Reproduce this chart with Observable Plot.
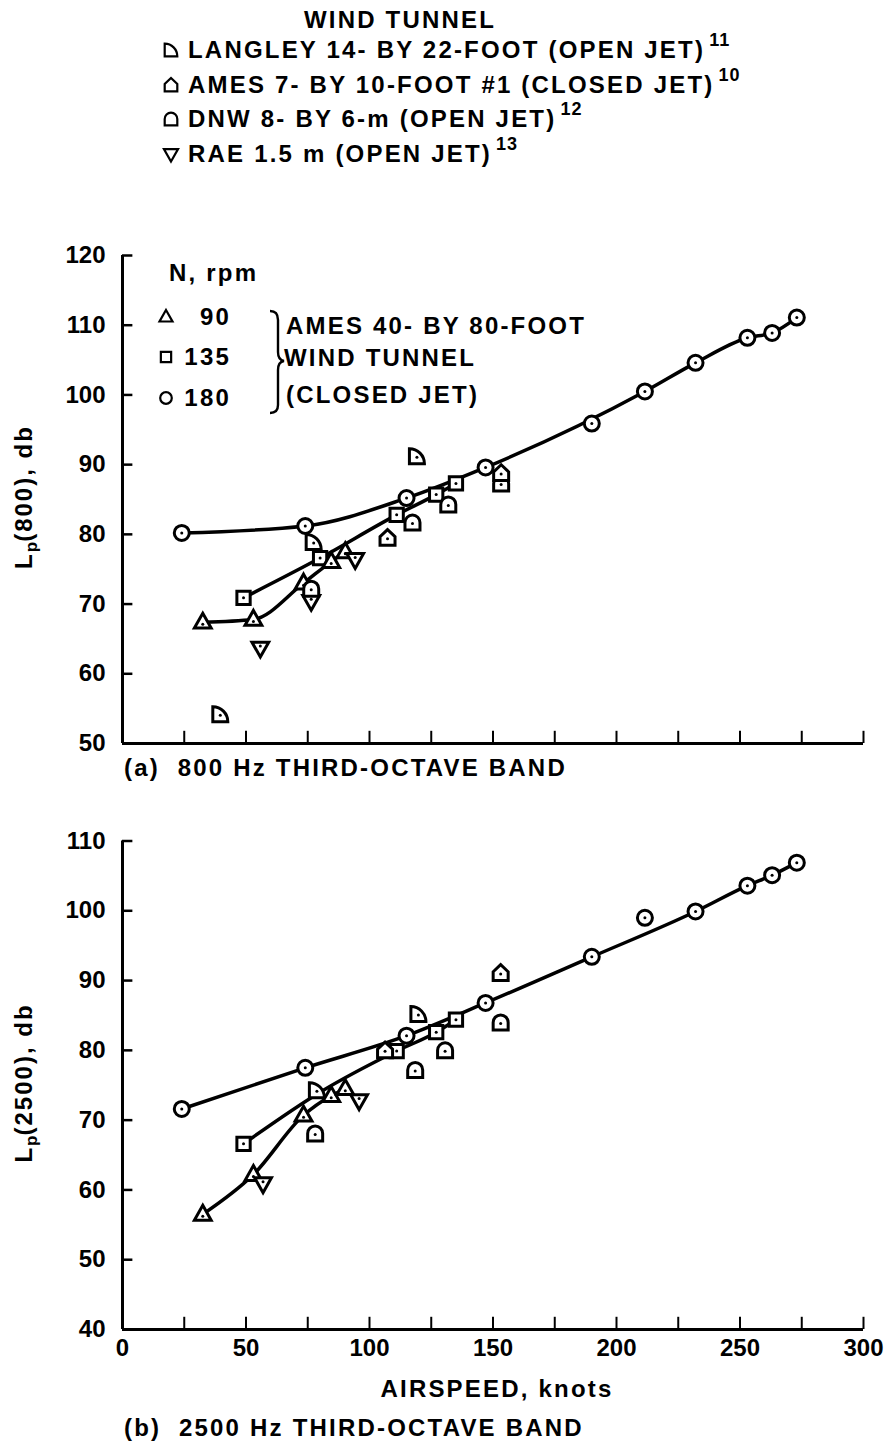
<!DOCTYPE html>
<html><head><meta charset="utf-8">
<script src="https://cdn.jsdelivr.net/npm/d3@7"></script>
<script src="https://cdn.jsdelivr.net/npm/@observablehq/plot@0.6"></script>
<style>
html,body{margin:0;padding:0;background:#fff;}
#fig{position:relative;width:891px;height:1445px;overflow:hidden;font-family:"Liberation Sans",Arial,sans-serif;color:#000;}
.t{position:absolute;white-space:nowrap;font-size:24px;font-weight:bold;letter-spacing:2.2px;line-height:1;transform:translateY(-50%);}
.sup{font-size:18px;position:relative;top:-12px;letter-spacing:1px;margin-left:4px;}
.abs{position:absolute;}
.sym{position:absolute;transform:translate(-50%,-50%);line-height:0;}
.ylab{position:absolute;white-space:nowrap;font-size:24px;font-weight:bold;letter-spacing:2px;line-height:1;transform:translate(-50%,-50%) rotate(-90deg);}
.ylab sub{font-size:17px;vertical-align:-5px;letter-spacing:0;}
</style></head><body><div id="fig"></div>
<script>
// ---------------- data ----------------
// Ames 40- by 80-foot, 180 rpm (circles)
const airspeed180 = [24, 74, 115, 147, 190, 211.5, 232, 253, 263, 273];
const lp800_180  = [80.2, 81.2, 85.2, 89.6, 95.9, 100.5, 104.6, 108.2, 108.9, 111.1];
const lp2500_180 = [71.6, 77.5, 82.1, 86.8, 93.4, 99.0, 99.9, 103.6, 105.1, 106.9];
const onCurve800_180  = [1, 1, 1, 1, 0, 1, 1, 1, 1, 1];
const onCurve2500_180 = [1, 1, 1, 1, 1, 0, 1, 1, 1, 1];
// 135 rpm (squares)
const airspeed135 = [49, 80, 111, 127, 135];
const lp800_135  = [70.9, 76.6, 82.8, 85.7, 87.3];
const lp2500_135 = [66.6, 74.0, 79.9, 82.6, 84.4];
const visible2500_135 = [1, 0, 1, 1, 1];   // the 80-knot point is hidden behind a Langley symbol
// 90 rpm (triangles)
const airspeed90 = [32.5, 53, 73.3, 84.5, 90.2];
const lp800_90  = [67.4, 67.8, 73.0, 76.1, 77.5];
const lp2500_90 = [56.5, 62.2, 70.7, 73.5, 74.5];
// Langley 14- by 22-foot
const langleyAirspeed800 = [39.6, 77.4, 119.2];
const langley800 = [54.2, 78.9, 91.2];
const langleyAirspeed2500 = [78.7, 119.8];
const langley2500 = [74.3, 85.2];
// Ames 7- by 10-foot #1
const ames7Airspeed800 = [107.3, 153.3];
const ames7_800 = [79.5, 88.8];
const ames7Airspeed2500 = [106.3, 153.1];
const ames7_2500 = [80.0, 91.1];
// DNW 8- by 6-m
const dnwAirspeed800 = [76.4, 117.4, 131.9, 153.3];
const dnw800 = [72.2, 81.7, 84.3, 87.3];
const dnwAirspeed2500 = [78, 118.5, 130.6, 153.1];
const dnw2500 = [68.1, 77.2, 80.0, 84.0];
// RAE 1.5 m
const raeAirspeed800 = [55.8, 76.4, 94.2];
const rae800 = [63.7, 70.4, 76.4];
const raeAirspeed2500 = [56.9, 95.8];
const rae2500 = [60.9, 72.8];

const xTickValues = d3.range(25, 301, 25);
const xLabelValues = [0, 50, 100, 150, 200, 250, 300];
const yTicksA = [50, 60, 70, 80, 90, 100, 110, 120];
const yTicksB = [40, 50, 60, 70, 80, 90, 100, 110];

// ---------------- symbols ----------------
const K = s => Math.sqrt(s / Math.PI);
const symCircle = d3.symbolCircle;
const symSquare = d3.symbolSquare;
const symTriUp = {draw(c, s){const k=K(s); c.moveTo(0,-1.2*k); c.lineTo(1.12*k,0.78*k); c.lineTo(-1.12*k,0.78*k); c.closePath();}};
const symTriDown = {draw(c, s){const k=K(s); c.moveTo(0,1.2*k); c.lineTo(1.12*k,-0.78*k); c.lineTo(-1.12*k,-0.78*k); c.closePath();}};
const symLangley = {draw(c, s){const k=K(s); c.moveTo(-k,k); c.lineTo(-k,-k); c.arc(-k,k,2*k,-Math.PI/2,0); c.closePath();}};
const symDNW = {draw(c, s){const k=K(s); c.moveTo(-k,k); c.lineTo(-k,0); c.arc(0,0,k,Math.PI,0); c.lineTo(k,k); c.closePath();}};
const symAmes = {draw(c, s){const k=K(s); c.moveTo(-k,k); c.lineTo(-k,-0.15*k); c.lineTo(0,-1.1*k); c.lineTo(k,-0.15*k); c.lineTo(k,k); c.closePath();}};

const rowsOf = (xs, ys, extra = {}) => xs.map((x, i) => ({x, y: ys[i], ...Object.fromEntries(Object.entries(extra).map(([k, v]) => [k, v[i]]))})).filter(d => d.y != null);

function panel({ymin, ymax, yTicks, height, marginTop, marginBottom, xLabels, groups, lines}) {
  const marks = [];
  marks.push(Plot.ruleY(yTicks, {x1: () => 0, x2: () => 4.2, strokeWidth: 2.5}));
  marks.push(Plot.ruleX(xTickValues, {y1: () => ymin, y2: () => ymin + 1.75, strokeWidth: 2}));
  marks.push(Plot.ruleX([0], {y1: () => ymin, y2: () => ymax, strokeWidth: 3}));
  marks.push(Plot.ruleY([ymin], {x1: () => 0, x2: () => 300, strokeWidth: 3}));
  marks.push(Plot.axisY(yTicks, {tickSize: 0, tickPadding: 17, label: null, fontSize: 24, fontWeight: "bold"}));
  if (xLabels) marks.push(Plot.axisX(xLabelValues, {tickSize: 0, tickPadding: 9, label: null, fontSize: 24, fontWeight: "bold"}));
  marks.push(Plot.line(lines, {x: "x", y: "y", z: "s", curve: "monotone-x", strokeWidth: 3.5, stroke: "black"}));
  for (const g of groups) {
    marks.push(Plot.dot(g.rows, {x: "x", y: "y", symbol: g.symbol, r: g.r || 7.5, fill: "white", stroke: "black", strokeWidth: 3}));
    marks.push(Plot.dot(g.rows, {x: "x", y: "y", r: 1.5, fill: "black", dy: g.dy || 0}));
  }
  return Plot.plot({
    width: 891, height, marginLeft: 122, marginRight: 28, marginTop, marginBottom,
    x: {domain: [0, 300], axis: null},
    y: {domain: [ymin, ymax], axis: null},
    style: {fontFamily: '"Liberation Sans", Arial, sans-serif', fontSize: "24px", fontWeight: "bold", color: "black", background: "transparent", overflow: "visible"},
    marks
  });
}

// ---------- panel a -----------
const a180 = rowsOf(airspeed180, lp800_180, {c: onCurve800_180});
const a135 = rowsOf(airspeed135, lp800_135);
const a90 = rowsOf(airspeed90, lp800_90);
const linesA = [
  ...a180.filter(d => d.c).map(d => ({...d, s: "180"})),
  ...a135.map(d => ({...d, s: "135"})),
  ...a90.map(d => ({...d, s: "90"}))
];
const plotA = panel({
  ymin: 50, ymax: 120, yTicks: yTicksA, height: 528, marginTop: 25, marginBottom: 15, xLabels: false,
  lines: linesA,
  groups: [
    {rows: a180, symbol: symCircle},
    {rows: a135, symbol: symSquare},
    {rows: a90, symbol: symTriUp, dy: 2},
    {rows: rowsOf(raeAirspeed800, rae800), symbol: symTriDown, dy: -2},
    {rows: rowsOf(dnwAirspeed800, dnw800), symbol: symDNW, dy: 1},
    {rows: rowsOf(ames7Airspeed800, ames7_800), symbol: symAmes, dy: 1},
    {rows: rowsOf(langleyAirspeed800, langley800), symbol: symLangley, dy: 1}
  ]
});

// ---------- panel b -----------
const b180 = rowsOf(airspeed180, lp2500_180, {c: onCurve2500_180});
const b135 = rowsOf(airspeed135, lp2500_135, {v: visible2500_135});
const b90 = rowsOf(airspeed90, lp2500_90);
const linesB = [
  ...b180.filter(d => d.c).map(d => ({...d, s: "180"})),
  ...b135.map(d => ({...d, s: "135"})),
  ...b90.map(d => ({...d, s: "90"}))
];
const plotB = panel({
  ymin: 40, ymax: 110, yTicks: yTicksB, height: 564, marginTop: 25.5, marginBottom: 50, xLabels: true,
  lines: linesB,
  groups: [
    {rows: b180, symbol: symCircle},
    {rows: b135.filter(d => d.v), symbol: symSquare},
    {rows: b90, symbol: symTriUp, dy: 2},
    {rows: rowsOf(raeAirspeed2500, rae2500), symbol: symTriDown, dy: -2},
    {rows: rowsOf(dnwAirspeed2500, dnw2500), symbol: symDNW, dy: 1},
    {rows: rowsOf(ames7Airspeed2500, ames7_2500), symbol: symAmes, dy: 1},
    {rows: rowsOf(langleyAirspeed2500, langley2500), symbol: symLangley, dy: 1}
  ]
});

// ---------------- layout ----------------
const fig = document.getElementById("fig");
function place(node, left, top) { const d = document.createElement("div"); d.className = "abs"; d.style.left = left + "px"; d.style.top = top + "px"; d.appendChild(node); fig.appendChild(d); }
place(plotA, 0, 230);
place(plotB, 0, 815);

function symSvg(sym, r, dot, sw = 2) {
  const p = d3.path(); sym.draw(p, r * r * Math.PI);
  const n = Math.ceil(r * 2.6);
  return `<svg width="${2*n}" height="${2*n}" viewBox="${-n} ${-n} ${2*n} ${2*n}"><path d="${p}" fill="white" stroke="black" stroke-width="${sw}"/>${dot ? '<circle r="1.3" fill="black"/>' : ''}</svg>`;
}
function text(html, left, top, cls = "t") {
  const d = document.createElement("div"); d.className = cls; d.innerHTML = html;
  d.style.left = left + "px"; d.style.top = top + "px";
  fig.appendChild(d); return d;
}
function sym(svg, x, y) { const d = document.createElement("div"); d.className = "sym"; d.style.left = x + "px"; d.style.top = y + "px"; d.innerHTML = svg; fig.appendChild(d); }

// top legend
const tunnelNames = ["LANGLEY 14- BY 22-FOOT (OPEN JET)", "AMES 7- BY 10-FOOT #1 (CLOSED JET)", "DNW 8- BY 6-m (OPEN JET)", "RAE 1.5 m (OPEN JET)"];
const tunnelRefs = ["11", "10", "12", "13"];
const tunnelSyms = [symLangley, symAmes, symDNW, symTriDown];
const w = text("WIND TUNNEL", 400, 20); w.style.transform = "translate(-50%,-50%)";
const rowY = [50, 85, 119, 154];
tunnelNames.forEach((n, i) => {
  sym(symSvg(tunnelSyms[i], 6.3, false, 2.2), 171, rowY[i]);
  text(`${n}<span class="sup">${tunnelRefs[i]}</span>`, 188, rowY[i]);
});

// inner legend of panel a
text("N, rpm", 169, 273);
const rpmLabels = ["90", "135", "180"];
const rpmSyms = [symTriUp, symSquare, symCircle];
const rpmY = [317, 357, 398];
rpmLabels.forEach((l, i) => {
  sym(symSvg(rpmSyms[i], 5.8, false, 2.2), 166, rpmY[i]);
  const d = text(l, 231, rpmY[i]); d.style.transform = "translate(-100%,-50%)";
});
const brace = document.createElementNS("http://www.w3.org/2000/svg", "svg");
brace.setAttribute("width", 30); brace.setAttribute("height", 120);
brace.style.cssText = "position:absolute;left:262px;top:305px;";
brace.innerHTML = '<path d="M8,6 Q16,6 16,15 L16,47 Q16,55 22,56 Q16,57 16,65 L16,100 Q16,108 8,108" fill="none" stroke="black" stroke-width="2.4"/>';
fig.appendChild(brace);
text("AMES 40- BY 80-FOOT", 286, 326);
text("WIND TUNNEL", 284, 358);
text("(CLOSED JET)", 286, 395);

// y labels
text('L<sub>p</sub>(800), db', 26, 497, "ylab");
text('L<sub>p</sub>(2500), db', 26, 1083, "ylab");

// captions
text("(a)&nbsp; 800 Hz THIRD-OCTAVE BAND", 124, 768);
const xl = text("AIRSPEED, knots", 497, 1389); xl.style.transform = "translate(-50%,-50%)";
text("(b)&nbsp; 2500 Hz THIRD-OCTAVE BAND", 124, 1428);
</script></body></html>
